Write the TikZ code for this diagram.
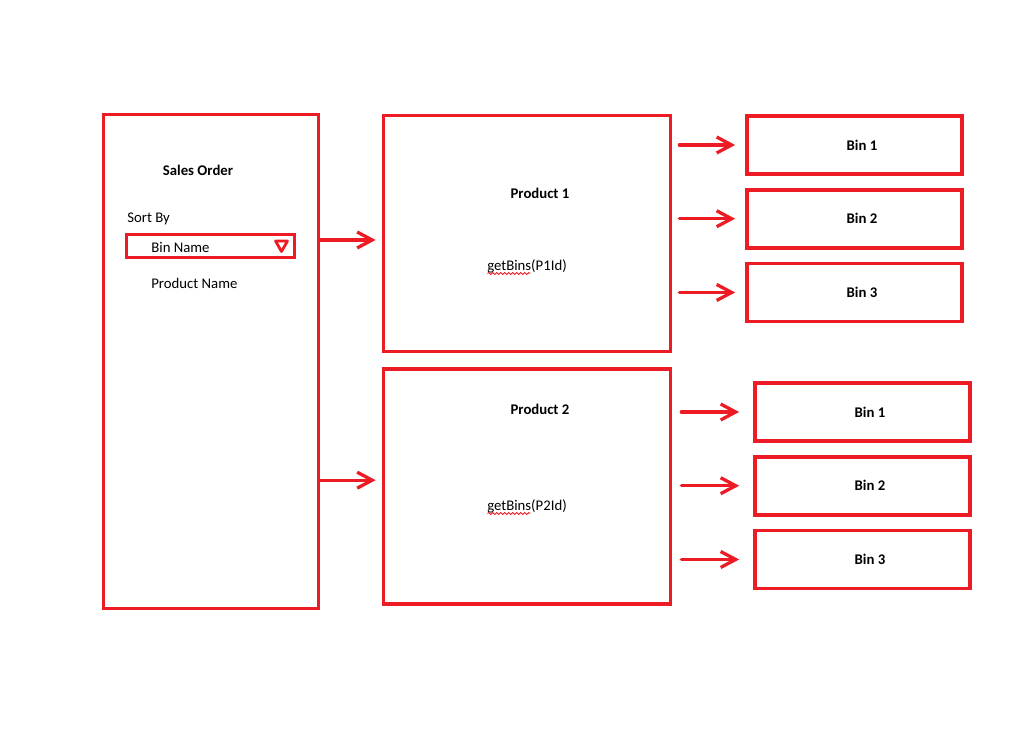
\documentclass[tikz,border=0pt]{standalone}
\usepackage{fontspec}
\setmainfont{Carlito}
\usetikzlibrary{
  calc,
  positioning,
  arrows.meta,
  decorations.pathmorphing
}
\definecolor{paintred}{RGB}{237,28,36}

\begin{document}
\begin{tikzpicture}[x = 0.02cm, y = -0.02cm, node distance = 0.24cm,
    font = \fontsize{8.4pt}{10pt}\selectfont,
    > = {Straight Barb[length=0.3cm, width=0.32cm]},
    box/.style = {draw = paintred, line width = 0.075cm, rectangle, inner sep = 0pt},
    binbox/.style = {box, minimum width = 4.3cm, minimum height = 1.16cm, font = \fontsize{8.4pt}{10pt}\selectfont\bfseries},
    txt/.style = {inner sep = 0pt, anchor = base west},
    title/.style = {inner sep = 0pt, anchor = base, font = \fontsize{8.4pt}{10pt}\selectfont\bfseries},
    call/.style = {inner sep = 0pt, anchor = base},
    arr/.style = {draw = paintred, line width = 0.066cm, line cap = round, ->},
    squiggle/.style = {draw = paintred, line width = 0.5pt, decorate,
      decoration = {snake, amplitude = 0.02cm, segment length = 0.08cm}}]
    \useasboundingbox (0,0) rectangle (1034,732);

    % sales order panel
    \node[box, minimum width = 4.3cm, minimum height = 9.88cm] (so) at (211,361.5) {};
    \node[title] (sotitle) at (198,175.5) {Sales Order};
    \node[txt] (sortby) at (127,222.5) {Sort By};
    \node[box, minimum width = 3.36cm, minimum height = 0.46cm] (dd) at (210.5,246) {};
    \node[txt] (binname) at (151,253) {Bin Name};
    \node[txt] (prodname) at (151,289) {Product Name};
    \draw[draw = paintred, line width = 0.055cm, line join = round]
      (275.5,241) -- (287.5,241) -- (281.5,251.5) -- cycle;

    % products
    \node[box, minimum width = 5.74cm, minimum height = 4.72cm] (p1) at (527,233.5) {};
    \node[box, minimum width = 5.74cm, minimum height = 4.70cm, below = 0.27cm of p1] (p2) {};
    \node[title] (p1title) at (540,198.5) {Product 1};
    \node[call] (p1call) at (527,271) {getBins(P1Id)};
    \node[title] (p2title) at (540,414.5) {Product 2};
    \node[call] (p2call) at (527,511) {getBins(P2Id)};
    \draw[squiggle] (487.5,273.5) -- (530,273.5);
    \draw[squiggle] (487.5,513.5) -- (530,513.5);

    % bins
    \node[binbox] (b11) at (854.5,145) {\hspace*{0.3cm}Bin 1};
    \node[binbox, below = of b11] (b12) {\hspace*{0.3cm}Bin 2};
    \node[binbox, below = of b12] (b13) {\hspace*{0.3cm}Bin 3};
    \node[binbox] (b21) at (862.5,412) {\hspace*{0.3cm}Bin 1};
    \node[binbox, below = of b21] (b22) {\hspace*{0.3cm}Bin 2};
    \node[binbox, below = of b22] (b23) {\hspace*{0.3cm}Bin 3};

    \draw[arr, shorten >= 0.12cm] ($(so.east |- p1.west)+(0,6.5)$) -- ($(p1.west)+(0,6.5)$);
    \draw[arr, shorten >= 0.12cm] ($(so.east |- p2.west)+(0,-6)$) -- ($(p2.west)+(0,-6)$);
    \foreach \b in {b11,b12,b13}
      \draw[arr, shorten <= 0.14cm, shorten >= 0.2cm] (p1.east |- \b) -- (\b.west);
    \foreach \b in {b21,b22,b23}
      \draw[arr, shorten <= 0.18cm, shorten >= 0.28cm] (p2.east |- \b) -- (\b.west);
  \end{tikzpicture}
\end{document}
